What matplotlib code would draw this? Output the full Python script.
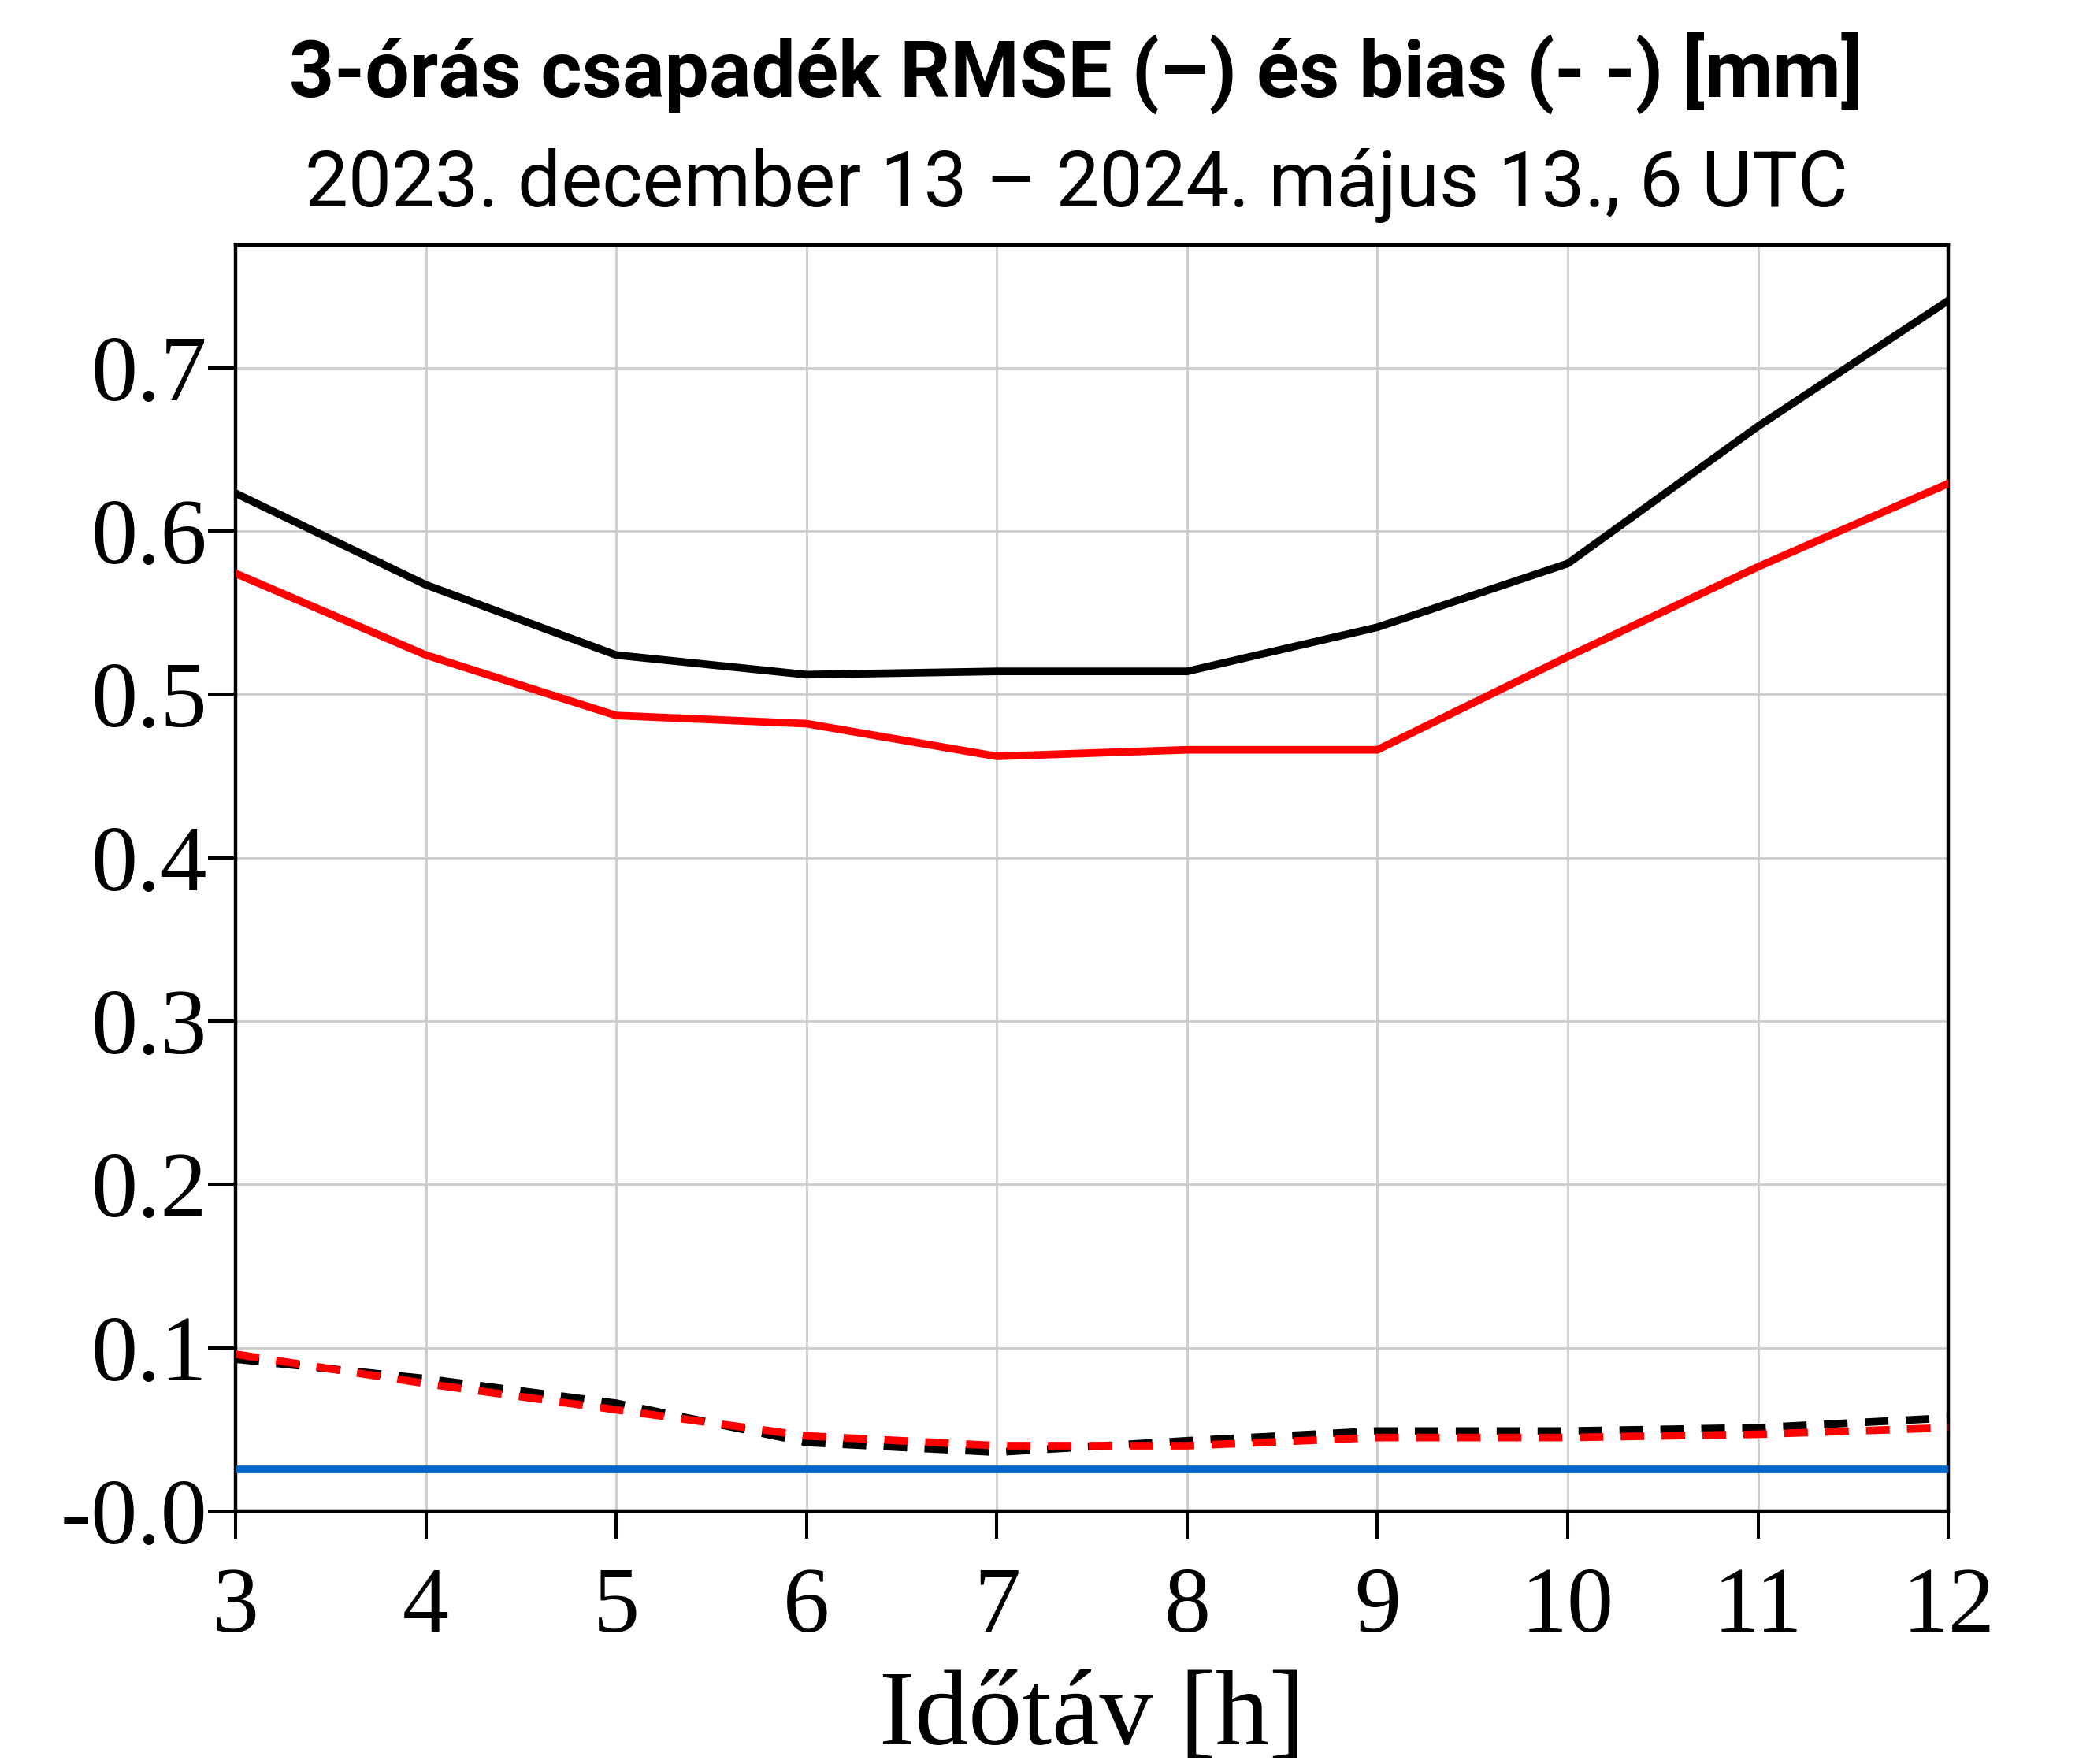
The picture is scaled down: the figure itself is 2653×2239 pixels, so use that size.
import matplotlib
matplotlib.use("Agg")
import matplotlib.pyplot as plt
from matplotlib.ticker import FixedLocator, FuncFormatter

# forecast lead time [h]
lead_time = [3, 4, 5, 6, 7, 8, 9, 10, 11, 12]

# RMSE (solid) and bias (dashed) of the two models
rmse_black = [0.623, 0.567, 0.524, 0.512, 0.514, 0.514, 0.541, 0.580, 0.664, 0.741]
rmse_red = [0.574, 0.524, 0.487, 0.482, 0.462, 0.466, 0.466, 0.523, 0.578, 0.629]
bias_black = [0.093, 0.081, 0.066, 0.042, 0.036, 0.043, 0.049, 0.049, 0.051, 0.057]
bias_red = [0.096, 0.078, 0.062, 0.046, 0.040, 0.040, 0.045, 0.045, 0.047, 0.051]

# reference level (blue)
ref_level = 0.0255

y_ticks = [0.0, 0.1, 0.2, 0.3, 0.4, 0.5, 0.6, 0.7]

title1 = "3-órás csapadék RMSE (–) és bias (- -) [mm]"
title2 = "2023. december 13 – 2024. május 13., 6 UTC"
xlabel = "Időtáv [h]"

plt.rcParams["lines.scale_dashes"] = False
SERIF = ["Liberation Serif", "DejaVu Serif"]
NARROW = ["Roboto", "Liberation Sans", "DejaVu Sans"]

fig = plt.figure(figsize=(26.53, 22.39), dpi=100)
ax = fig.add_axes([0.1127, 0.1434, 0.8195, 0.7177])

lw = 7.0
dash = (21.6, 15.8)
ax.axhline(ref_level, color="#0066cc", lw=7.0, zorder=3)
ax.plot(lead_time, rmse_black, color="black", lw=lw, zorder=4)
ax.plot(lead_time, rmse_red, color="#ff0000", lw=lw, zorder=5)
ax.plot(lead_time, bias_black, color="black", lw=lw, dashes=dash, zorder=4)
ax.plot(lead_time, bias_red, color="#ff0000", lw=lw, dashes=dash, zorder=5)

ax.set_xlim(3, 12)
ax.set_ylim(0, 0.775)
ax.xaxis.set_major_locator(FixedLocator(lead_time))
ax.yaxis.set_major_locator(FixedLocator(y_ticks))
ax.yaxis.set_major_formatter(FuncFormatter(lambda v, p: "-0.0" if v == 0 else f"{v:.1f}"))

ax.grid(True, color="#cccccc", lw=2.0)
ax.set_axisbelow(True)
for s in ax.spines.values():
    s.set_linewidth(3.2)
ax.tick_params(axis="both", direction="out", length=25, width=2.9, top=False, right=False)
ax.tick_params(axis="y", pad=1)
ax.tick_params(axis="x", pad=26)
for lab in ax.get_yticklabels():
    lab.set_fontfamily(SERIF)
    lab.set_fontsize(85)
for lab in ax.get_xticklabels():
    lab.set_fontfamily(SERIF)
    lab.set_fontsize(85)

ax.set_xlabel(xlabel, fontsize=98, family=SERIF, va="baseline")
ax.xaxis.set_label_coords(0.5, -0.184)

fig.text(0.515, 0.945, title1, ha="center", va="baseline", fontsize=72,
         fontweight="bold", family=NARROW)
fig.text(0.515, 0.883, title2, ha="center", va="baseline", fontsize=70.5,
         family=NARROW)

fig.savefig("out.png", dpi=100)
